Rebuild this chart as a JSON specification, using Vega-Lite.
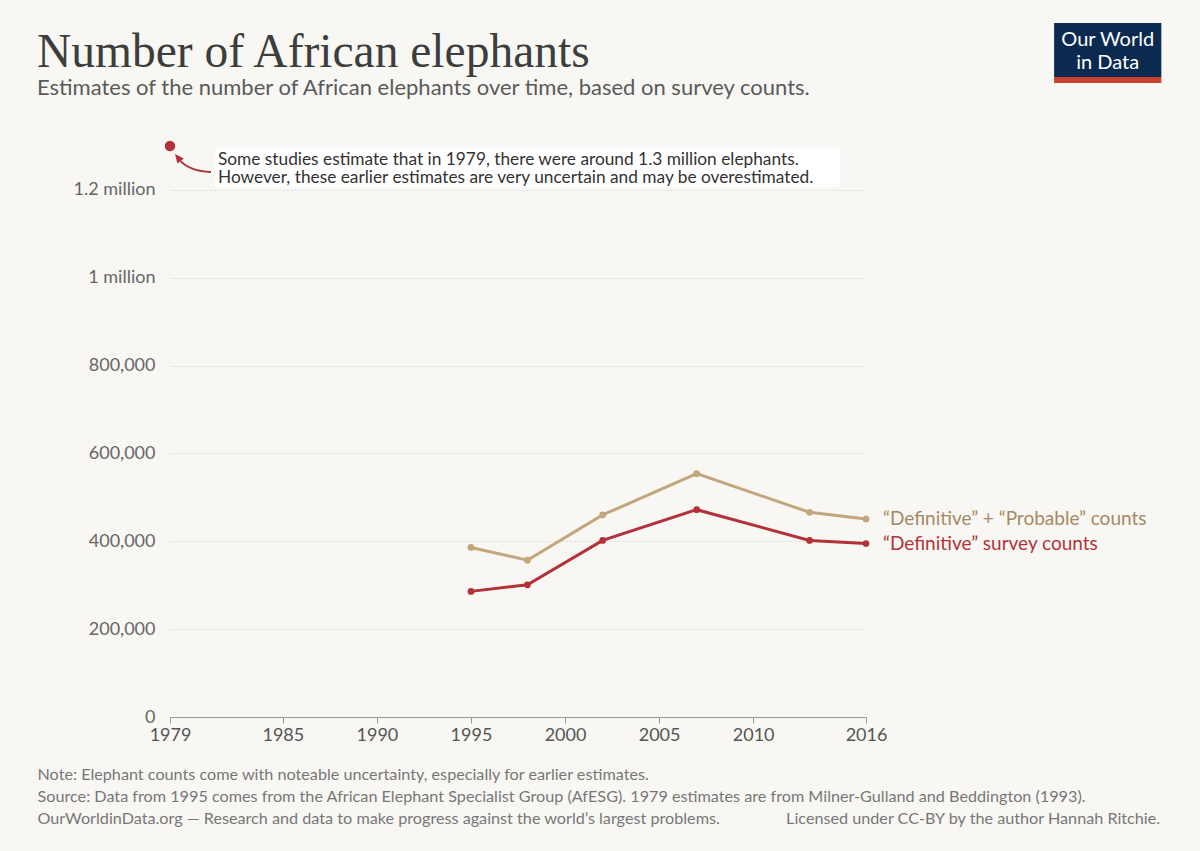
{
  "$schema": "https://vega.github.io/schema/vega-lite/v6.json",
  "width": 696,
  "height": 571,
  "autosize": {"type": "none"},
  "padding": {"left": 170, "top": 146, "right": 334, "bottom": 134},
  "background": "#f8f7f3",
  "config": {"view": {"stroke": null}, "font": "Lato"},
  "title": {
    "text": "Number of African elephants",
    "subtitle": "Estimates of the number of African elephants over time, based on survey counts.",
    "anchor": "start",
    "frame": "group",
    "dx": -133,
    "offset": -76,
    "font": "Liberation Serif",
    "fontSize": 47.5,
    "fontWeight": "normal",
    "color": "#3d3d3d",
    "subtitleFont": "Lato",
    "subtitleFontSize": 22,
    "subtitleColor": "#5a5a5a",
    "subtitlePadding": 2
  },
  "datasets": {
    "counts": [
      {"year": 1995, "series": "“Definitive” + “Probable” counts", "count": 386000},
      {"year": 1998, "series": "“Definitive” + “Probable” counts", "count": 357000},
      {"year": 2002, "series": "“Definitive” + “Probable” counts", "count": 460000},
      {"year": 2007, "series": "“Definitive” + “Probable” counts", "count": 554000},
      {"year": 2013, "series": "“Definitive” + “Probable” counts", "count": 466000},
      {"year": 2016, "series": "“Definitive” + “Probable” counts", "count": 451000},
      {"year": 1995, "series": "“Definitive” survey counts", "count": 286000},
      {"year": 1998, "series": "“Definitive” survey counts", "count": 301000},
      {"year": 2002, "series": "“Definitive” survey counts", "count": 402000},
      {"year": 2007, "series": "“Definitive” survey counts", "count": 472000},
      {"year": 2013, "series": "“Definitive” survey counts", "count": 402000},
      {"year": 2016, "series": "“Definitive” survey counts", "count": 395000}
    ],
    "early": [
      {"year": 1979, "series": "1979 estimate", "count": 1300000}
    ]
  },
  "layer": [
    {
      "data": {"name": "counts"},
      "mark": {"type": "line", "strokeWidth": 3},
      "encoding": {
        "x": {
          "field": "year",
          "type": "quantitative",
          "scale": {"domain": [1979, 2016], "nice": false, "zero": false},
          "axis": {
            "values": [1979, 1985, 1990, 1995, 2000, 2005, 2010, 2016],
            "format": "d",
            "grid": false,
            "domainColor": "#999",
            "tickColor": "#999",
            "tickSize": 6,
            "labelFontSize": 18,
            "labelColor": "#555",
            "labelPadding": 3,
            "labelFlush": false,
            "title": [
              "Note: Elephant counts come with noteable uncertainty, especially for earlier estimates.",
              "Source: Data from 1995 comes from the African Elephant Specialist Group (AfESG). 1979 estimates are from Milner-Gulland and Beddington (1993).",
              "OurWorldinData.org — Research and data to make progress against the world’s largest problems.\u00a0\u00a0\u00a0\u00a0\u00a0\u00a0\u00a0\u00a0\u00a0\u00a0\u00a0\u00a0\u00a0\u00a0\u00a0\u00a0Licensed under CC-BY by the author Hannah Ritchie."
            ],
            "titleFont": "Lato",
            "titleFontSize": 16.2,
            "titleFontWeight": "normal",
            "titleColor": "#777",
            "titleAnchor": "start",
            "titleAlign": "left",
            "titleBaseline": "top",
            "titleX": -133,
            "titleY": 49,
            "titleLineHeight": 22
          }
        },
        "y": {
          "field": "count",
          "type": "quantitative",
          "scale": {"domain": [0, 1300000], "nice": false},
          "axis": {
            "values": [0, 200000, 400000, 600000, 800000, 1000000, 1200000],
            "labelExpr": "datum.value >= 1000000 ? format(datum.value / 1000000, '.1~f') + ' million' : format(datum.value, ',')",
            "domain": false,
            "ticks": false,
            "gridColor": "#d8d8d8",
            "gridDash": [2, 2],
            "labelPadding": 15,
            "labelFontSize": 18,
            "labelColor": "#666",
            "title": null
          }
        },
        "color": {
          "field": "series",
          "type": "nominal",
          "scale": {
            "domain": ["“Definitive” + “Probable” counts", "“Definitive” survey counts"],
            "range": ["#c4a67c", "#b3323a"]
          },
          "legend": null
        }
      }
    },
    {
      "data": {"name": "counts"},
      "mark": {"type": "point", "filled": true, "size": 45, "opacity": 1},
      "encoding": {
        "x": {"field": "year", "type": "quantitative"},
        "y": {"field": "count", "type": "quantitative"},
        "color": {"field": "series", "type": "nominal"}
      }
    },
    {
      "data": {"name": "counts"},
      "transform": [{"filter": "datum.year === 2016"}],
      "mark": {"type": "text", "align": "left", "baseline": "middle", "dx": 17, "fontSize": 19},
      "encoding": {
        "x": {"field": "year", "type": "quantitative"},
        "y": {"field": "count", "type": "quantitative"},
        "text": {"field": "series"},
        "color": {
          "condition": {"test": "datum.series === '“Definitive” survey counts'", "value": "#b3323a"},
          "value": "#a68962"
        }
      }
    },
    {
      "data": {"name": "early"},
      "mark": {"type": "point", "filled": true, "size": 110, "opacity": 1, "color": "#b3323a"},
      "encoding": {
        "x": {"field": "year", "type": "quantitative"},
        "y": {"field": "count", "type": "quantitative"}
      }
    },
    {
      "data": {"name": "early"},
      "mark": {
        "type": "point",
        "shape": "M41,26 Q20,25 10.6,15.1",
        "size": 4,
        "filled": false,
        "stroke": "#b3323a",
        "strokeWidth": 2,
        "opacity": 1
      },
      "encoding": {
        "x": {"field": "year", "type": "quantitative"},
        "y": {"field": "count", "type": "quantitative"}
      }
    },
    {
      "data": {"name": "early"},
      "mark": {
        "type": "point",
        "shape": "M5,8 L13.8,12.6 L7.4,17.6 Z",
        "size": 4,
        "filled": true,
        "color": "#b3323a",
        "opacity": 1
      },
      "encoding": {
        "x": {"field": "year", "type": "quantitative"},
        "y": {"field": "count", "type": "quantitative"}
      }
    },
    {
      "data": {"name": "early"},
      "mark": {"type": "rect", "color": "#ffffff"},
      "encoding": {
        "x": {"datum": 1981.4},
        "x2": {"datum": 2014.6},
        "y": {"datum": 1296600},
        "y2": {"datum": 1206800}
      }
    },
    {
      "data": {"name": "early"},
      "mark": {
        "type": "text",
        "align": "left",
        "baseline": "top",
        "fontSize": 17.3,
        "lineHeight": 18,
        "color": "#333"
      },
      "encoding": {
        "x": {"datum": 1981.55},
        "y": {"datum": 1289000},
        "text": {"value": [
          "Some studies estimate that in 1979, there were around 1.3 million elephants.",
          "However, these earlier estimates are very uncertain and may be overestimated."
        ]}
      }
    },
    {
      "data": {"name": "early"},
      "mark": {"type": "rect", "color": "#0b2a50"},
      "encoding": {
        "x": {"datum": 2026.0},
        "x2": {"datum": 2031.7},
        "y": {"datum": 1580000},
        "y2": {"datum": 1457300}
      }
    },
    {
      "data": {"name": "early"},
      "mark": {"type": "rect", "color": "#c8402f"},
      "encoding": {
        "x": {"datum": 2026.0},
        "x2": {"datum": 2031.7},
        "y": {"datum": 1457300},
        "y2": {"datum": 1443600}
      }
    },
    {
      "data": {"name": "early"},
      "mark": {
        "type": "text",
        "align": "center",
        "baseline": "middle",
        "fontSize": 20,
        "lineHeight": 23,
        "color": "#ffffff"
      },
      "encoding": {
        "x": {"datum": 2028.85},
        "y": {"datum": 1541500},
        "text": {"value": ["Our World", "in Data"]}
      }
    }
  ]
}
